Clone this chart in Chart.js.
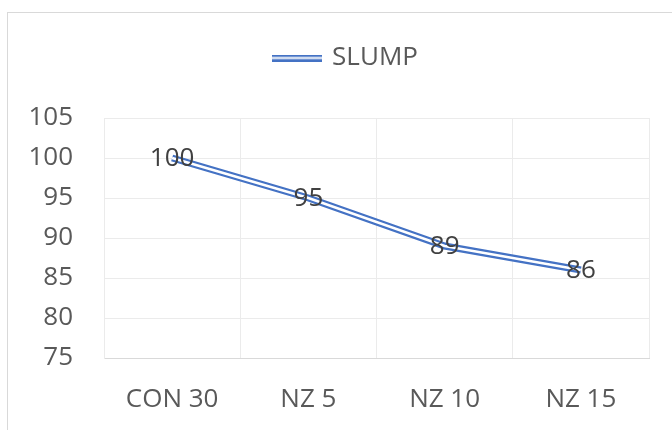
<!DOCTYPE html>
<html>
<head>
<meta charset="utf-8">
<script src="https://cdn.jsdelivr.net/npm/chart.js@4/dist/chart.umd.min.js"></script>
<style>
  html, body { margin: 0; padding: 0; background: #fff; overflow: hidden; }
  #wrap { position: relative; width: 672px; height: 430px; }
  #frame { position: absolute; left: 7px; top: 12px; width: 700px; height: 500px; border: 1px solid #d9d9d9; }
  canvas { position: absolute; left: 0; top: 0; }
</style>
</head>
<body>
<div id="wrap">
  <div id="frame"></div>
  <canvas id="slumpChart" width="672" height="430"></canvas>
</div>
<script>
// data
var categories = ['CON 30', 'NZ 5', 'NZ 10', 'NZ 15'];
var slump = [100, 95, 89, 86];
var seriesName = 'SLUMP';
var yMin = 75, yMax = 105, yStep = 5;

var blue = '#4472C4';
var textColor = '#595959';
var fontFamily = '"Open Sans", sans-serif';

// legend icon: double line like Excel's compound line
var legendIcon = document.createElement('canvas');
legendIcon.width = 50;
legendIcon.height = 7;
var ic = legendIcon.getContext('2d');
ic.fillStyle = blue;
ic.fillRect(0, 0, 50, 7);
ic.fillStyle = '#fff';
ic.fillRect(0, 2.5, 50, 2);

// make room under the legend and nudge it right, like Excel centres it in the frame
var legendSpace = {
    id: 'legendSpace',
    afterInit: function (chart) {
        var lg = chart.legend;
        var fit = lg.fit;
        lg.fit = function () {
            fit.call(this);
            this.height += 37;
        };
    },
    afterLayout: function (chart) {
        chart.legend.left += 22;
        chart.legend.right += 22;
    }
};

// value labels centred on the points
var valueLabels = {
    id: 'valueLabels',
    afterDatasetsDraw: function (chart) {
        var ctx = chart.ctx;
        var meta = chart.getDatasetMeta(0);
        ctx.save();
        ctx.font = '26px ' + fontFamily;
        ctx.fillStyle = '#404040';
        ctx.textAlign = 'center';
        ctx.textBaseline = 'middle';
        meta.data.forEach(function (pt, i) {
            ctx.fillText(String(slump[i]), pt.x, pt.y + 1);
        });
        ctx.restore();
    }
};

var ctx = document.getElementById('slumpChart').getContext('2d');
var myChart = new Chart(ctx, {
    type: 'line',
    data: {
        labels: categories,
        datasets: [{
            label: seriesName,
            data: slump,
            borderColor: blue,
            borderWidth: 7,
            pointRadius: 0,
            tension: 0,
            fill: false,
            order: 1
        }, {
            label: '',
            data: slump,          // white core of the double line
            borderColor: '#ffffff',
            borderWidth: 2.5,
            pointRadius: 0,
            tension: 0,
            fill: false,
            order: 0
        }]
    },
    options: {
        responsive: false,
        animation: false,
        layout: {
            padding: { top: 6, right: 23, bottom: 0, left: 0 }
        },
        plugins: {
            tooltip: { enabled: false },
            legend: {
                position: 'top',
                labels: {
                    filter: function (item) { return item.datasetIndex === 0; },
                    usePointStyle: true,
                    pointStyle: legendIcon,
                    pointStyleWidth: 44,
                    padding: 39,
                    color: textColor,
                    font: { size: 26, family: fontFamily }
                }
            }
        },
        scales: {
            x: {
                offset: true,
                grid: { offset: true, color: '#ebebeb', drawTicks: false },
                border: { color: '#d9d9d9' },
                afterFit: function (scale) { scale.height = 72; },
                ticks: {
                    padding: 26,
                    color: textColor,
                    font: { size: 26, family: fontFamily }
                }
            },
            y: {
                min: yMin,
                max: yMax,
                grid: { color: '#ebebeb', drawTicks: false },
                border: { color: '#ebebeb' },
                afterFit: function (scale) { scale.width = 104; },
                ticks: {
                    stepSize: yStep,
                    padding: 31,
                    color: textColor,
                    font: { size: 26, family: fontFamily }
                }
            }
        }
    },
    plugins: [legendSpace, valueLabels]
});
</script>
</body>
</html>
